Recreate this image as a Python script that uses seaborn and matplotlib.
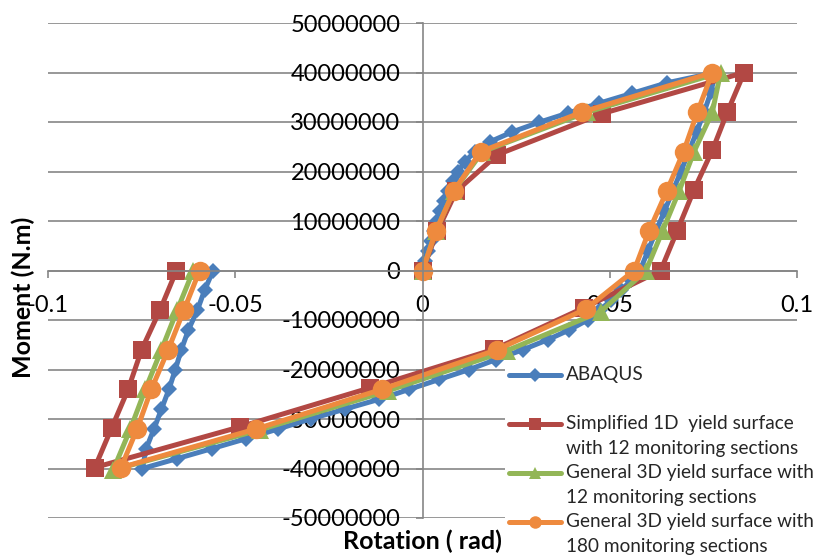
import numpy as np
import pandas as pd
import matplotlib
matplotlib.use("Agg")
import matplotlib.pyplot as plt
import seaborn as sns
from matplotlib.legend_handler import HandlerLine2D
from matplotlib.transforms import Affine2D
from matplotlib.ticker import FuncFormatter, MultipleLocator

# ---------------- data (rotation in rad, moment in N.m) ----------------
abaqus_rot = [0.0, 0.0008, 0.0015, 0.0023, 0.0031, 0.0039, 0.0048, 0.0058, 0.0069, 0.0081,
              0.0095, 0.0113, 0.0140, 0.0180, 0.0240, 0.0310, 0.0388, 0.0472, 0.0560, 0.0652,
              0.0782,
              0.0770, 0.0752, 0.0732, 0.0711, 0.0690, 0.0668, 0.0646, 0.0624, 0.0602, 0.0581,
              0.0557, 0.0530, 0.0503, 0.0474, 0.0441, 0.0392, 0.0334, 0.0268, 0.0196, 0.0125,
              0.0045, -0.0035, -0.0115, -0.0207, -0.0299, -0.0385, -0.0472, -0.0563, -0.0655,
              -0.0748,
              -0.0738, -0.0717, -0.0697, -0.0677, -0.0660, -0.0644, -0.0625, -0.0601, -0.0582,
              -0.0559]
abaqus_mom = [0, 2e6, 4e6, 6e6, 8e6, 10e6, 12e6, 14e6, 16e6, 18e6,
              20e6, 22e6, 24e6, 26e6, 28e6, 29.9e6, 31.8e6, 33.8e6, 35.8e6, 37.9e6,
              40e6,
              36e6, 32e6, 28e6, 24e6, 20e6, 16e6, 12e6, 8e6, 4e6, 0,
              -2e6, -4e6, -6e6, -8e6, -10e6, -12e6, -14e6, -16e6, -18e6, -20e6,
              -22e6, -24e6, -26e6, -28e6, -30e6, -32e6, -34e6, -36e6, -38e6,
              -40e6,
              -36e6, -32e6, -28e6, -24e6, -20e6, -16e6, -12e6, -8e6, -4e6,
              0]

simp12_rot = [0.0, 0.0040, 0.0090, 0.0200, 0.0480, 0.0859, 0.0814, 0.0774, 0.0725, 0.0680,
              0.0636, 0.0432, 0.0192, -0.0140, -0.0488, -0.0875, -0.0830, -0.0786, -0.0750,
              -0.0701, -0.0657]
simp12_mom = [0, 8e6, 16e6, 23.4e6, 31.7e6, 40e6, 32e6, 24.3e6, 16.3e6, 8e6,
              0, -7.5e6, -15.9e6, -23.7e6, -31.6e6, -39.8e6, -31.8e6, -24e6, -16e6,
              -8e6, 0]

gen12_rot = [0.0, 0.0036, 0.0083, 0.0160, 0.0440, 0.0796, 0.0774, 0.0725, 0.0685, 0.0641,
             0.0597, 0.0476, 0.0225, -0.0092, -0.0435, -0.0826, -0.0780, -0.0740, -0.0697,
             -0.0655, -0.0612]
gen12_mom = [0, 8e6, 16e6, 24e6, 32e6, 40e6, 32e6, 24e6, 16e6, 8e6,
             0, -8.3e6, -16.2e6, -24.3e6, -32.2e6, -40.3e6, -32e6, -24e6, -16e6,
             -8e6, 0]

gen180_rot = [0.0, 0.0036, 0.0083, 0.0155, 0.0426, 0.0774, 0.0734, 0.0697, 0.0652, 0.0605,
              0.0565, 0.0436, 0.0199, -0.0108, -0.0444, -0.0805, -0.0762, -0.0724, -0.0679,
              -0.0637, -0.0595]
gen180_mom = [0, 8e6, 16e6, 24e6, 32e6, 40e6, 32e6, 24e6, 16e6, 8e6,
              0, -7.8e6, -16e6, -24e6, -32e6, -39.8e6, -32e6, -24e6, -16e6,
              -8e6, 0]

labels = ["ABAQUS\n ",
          "Simplified 1D  yield surface\nwith 12 monitoring sections",
          "General 3D yield surface with\n12 monitoring sections",
          "General 3D yield surface with\n180 monitoring sections"]

x_ticks = [-0.1, -0.05, 0, 0.05, 0.1]
x_tick_labels = ["-0.1", "-0.05", "0", "0.05", "0.1"]

# ---------------- style ----------------
sns.set_theme(style="white")
plt.rcParams["font.family"] = ["Lato", "DejaVu Sans"]
plt.rcParams["axes.unicode_minus"] = False

W, H = 824, 557
fig = plt.figure(figsize=(W / 100, H / 100), dpi=100)
ax = fig.add_axes([48 / W, (H - 518) / H, (797 - 48) / W, (518 - 23) / H])

colors = ["#4A7EBB", "#B24844", "#93B657", "#EE8A3E"]
series = [
    (abaqus_rot, abaqus_mom, "D", 8.5),
    (simp12_rot, simp12_mom, "s", 12.5),
    (gen12_rot, gen12_mom, "^", 12.5),
    (gen180_rot, gen180_mom, "o", 14),
]
for (xr, ym, mk, ms), c, lab in zip(series, colors, labels):
    df = pd.DataFrame({"rot": xr, "mom": ym})
    sns.lineplot(data=df, x="rot", y="mom", sort=False, estimator=None, ax=ax,
                 color=c, lw=3.6, marker=mk, markersize=ms, markeredgewidth=0,
                 label=lab, legend=False)

ax.set_xlim(-0.1, 0.1)
ax.set_ylim(-5e7, 5e7)
ax.yaxis.set_major_locator(MultipleLocator(1e7))
ax.yaxis.set_major_formatter(FuncFormatter(lambda v, p: "%d" % round(v)))
ax.set_xticks(x_ticks)
ax.set_xticklabels(x_tick_labels)

gcol = "#868686"
ax.grid(axis="y", color=gcol, lw=1.2)
ax.grid(axis="x", visible=False)
ax.set_axisbelow(True)
for s in ["top", "right"]:
    ax.spines[s].set_visible(False)
ax.spines["left"].set_position(("data", 0))
ax.spines["bottom"].set_position(("data", 0))
for s in ["left", "bottom"]:
    ax.spines[s].set_color(gcol)
    ax.spines[s].set_linewidth(1.2)
ax.tick_params(axis="x", direction="out", length=5, width=1.2, color=gcol,
               labelsize=17, pad=12.5, bottom=True)
ax.tick_params(axis="y", direction="out", length=5, width=1.2, color=gcol,
               labelsize=17, pad=11, left=True)
for t in ax.get_xticklabels() + ax.get_yticklabels():
    t.set_color("black")

ax.set_xlabel("Rotation ( rad)", fontsize=18, fontweight="bold", color="black")
ax.set_ylabel("Moment (N.m)", fontsize=18, fontweight="bold", color="black")
ax.xaxis.label.set_verticalalignment("center")
ax.yaxis.label.set_verticalalignment("center")
ax.xaxis.set_label_coords(0.5, (518 - 541) / 495)
ax.yaxis.set_label_coords((23 - 48) / 749, (518 - 297) / 495)


class UpHandler(HandlerLine2D):
    def __init__(self, dy, **kw):
        super().__init__(**kw)
        self.dy = dy

    def create_artists(self, legend, orig_handle, xdescent, ydescent, width, height,
                       fontsize, trans):
        t = Affine2D().translate(0, self.dy) + trans
        arts = super().create_artists(legend, orig_handle, xdescent, ydescent, width,
                                      height, fontsize, t)
        for a in arts:
            a.set_markersize(9 if a.get_marker() != "D" else 7)
        return arts


handles = ax.get_lines()[:4]
leg = ax.legend(handles, labels, loc="upper left",
                bbox_to_anchor=(505 / W, 1 - 362 / H), bbox_transform=fig.transFigure,
                frameon=True, facecolor="white", edgecolor="none", framealpha=1,
                fontsize=13.7, handlelength=2.75, handletextpad=0.25, labelspacing=0.35,
                borderpad=0.2, borderaxespad=0,
                handler_map={h: UpHandler(9) for h in handles})
leg.set_zorder(5)
for t in leg.get_texts():
    t.set_linespacing(1.6)

fig.savefig("out.png", dpi=100, facecolor="white")
